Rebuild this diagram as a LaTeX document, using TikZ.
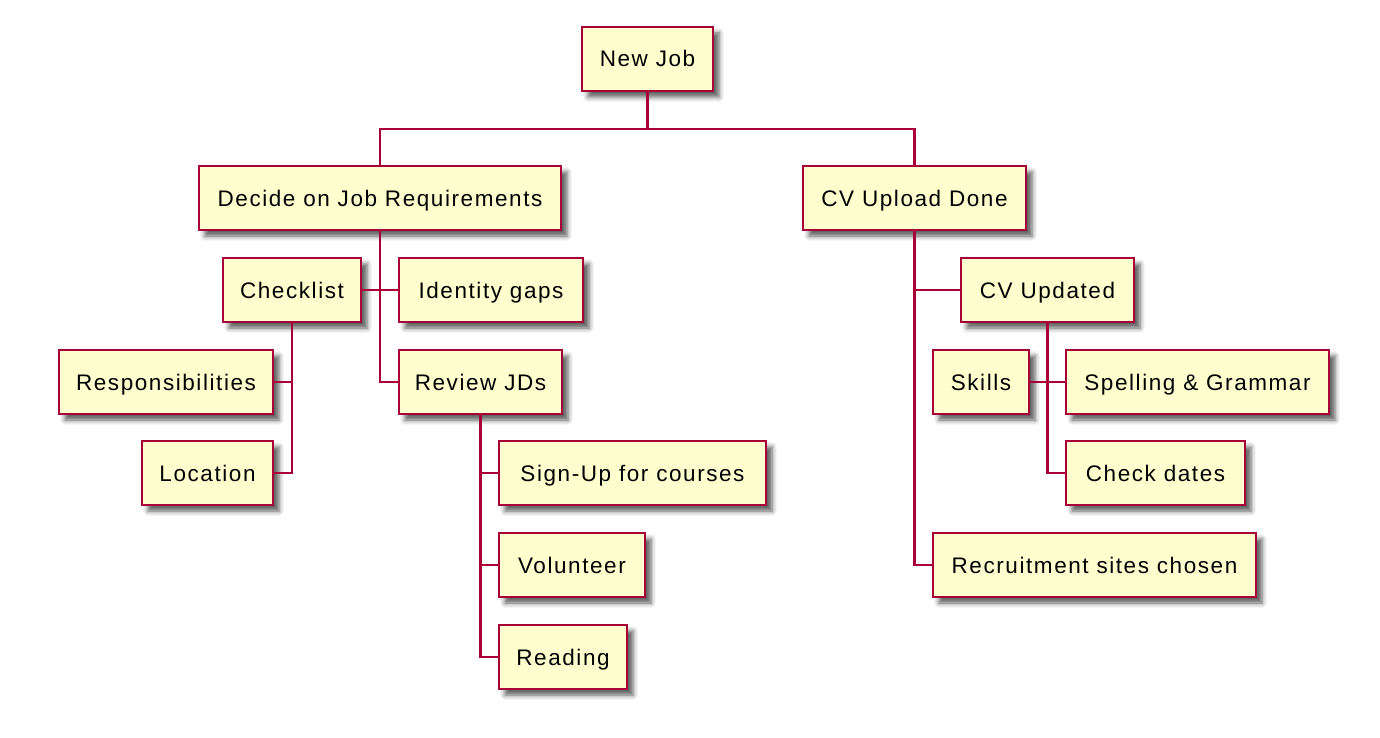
\documentclass[tikz,border=0pt]{standalone}
\usepackage{fontspec}
\setmainfont{Liberation Sans}[LetterSpace=7]
\usetikzlibrary{shadows.blur}
\definecolor{boxfill}{HTML}{FEFECE}
\definecolor{boxline}{HTML}{A80036}
\tikzset{
  item/.style={draw=boxline, fill=boxfill, line width=2.2pt, minimum height=64pt, inner sep=0pt,
    text height=16pt, text depth=0pt, font=\fontsize{22.5}{27}\selectfont,
    blur shadow={shadow xshift=6pt, shadow yshift=-6pt, shadow blur radius=5pt, shadow opacity=65}},
  link/.style={draw=boxline, line width=2.2pt}
}

\begin{document}
\begin{tikzpicture}[x=1pt, y=-1pt]
        \useasboundingbox (0,0) rectangle (1380,738);

        \node[item, minimum width=131pt] (job) at (647.5,59) {New Job};
        \node[item, minimum width=362pt] (req) at (380,198) {Decide on Job Requirements};
        \node[item, minimum width=223pt] (cv) at (914.5,198) {CV Upload Done};
        \node[item, minimum width=138pt] (check) at (292,290) {Checklist};
        \node[item, minimum width=184pt] (gaps) at (491,290) {Identity gaps};
        \node[item, minimum width=163pt] (jds) at (480.5,382) {Review JDs};
        \node[item, minimum width=214pt] (resp) at (166,382) {Responsibilities};
        \node[item, minimum width=131pt] (loc) at (207.5,473) {Location};
        \node[item, minimum width=267pt] (course) at (632.5,473) {Sign-Up for courses};
        \node[item, minimum width=146pt] (vol) at (572,565) {Volunteer};
        \node[item, minimum width=128pt] (read) at (563,657) {Reading};
        \node[item, minimum width=173pt] (cvup) at (1047.5,290) {CV Updated};
        \node[item, minimum width=96pt] (skills) at (981,382) {Skills};
        \node[item, minimum width=263pt] (spell) at (1197.5,382) {Spelling \& Grammar};
        \node[item, minimum width=179pt] (dates) at (1155.5,473) {Check dates};
        \node[item, minimum width=323pt] (sites) at (1094.5,565) {Recruitment sites chosen};

        \draw[link] (job.south) -- ++(0,37) -| (req.north);
        \draw[link] (job.south) -- ++(0,37) -| (cv.north);

        \draw[link] (req.south) |- (gaps.west);
        \draw[link] (req.south) |- (jds.west);
        \draw[link] (check.east) -- (req.south |- check.east);

        \draw[link] (check.south) |- (resp.east);
        \draw[link] (check.south) |- (loc.east);

        \draw[link] (jds.south) |- (course.west);
        \draw[link] (jds.south) |- (vol.west);
        \draw[link] (jds.south) |- (read.west);

        \draw[link] (cv.south) |- (cvup.west);
        \draw[link] (cv.south) |- (sites.west);

        \draw[link] (cvup.south) |- (spell.west);
        \draw[link] (cvup.south) |- (dates.west);
        \draw[link] (skills.east) -- (cvup.south |- skills.east);

    \end{tikzpicture}
\end{document}
